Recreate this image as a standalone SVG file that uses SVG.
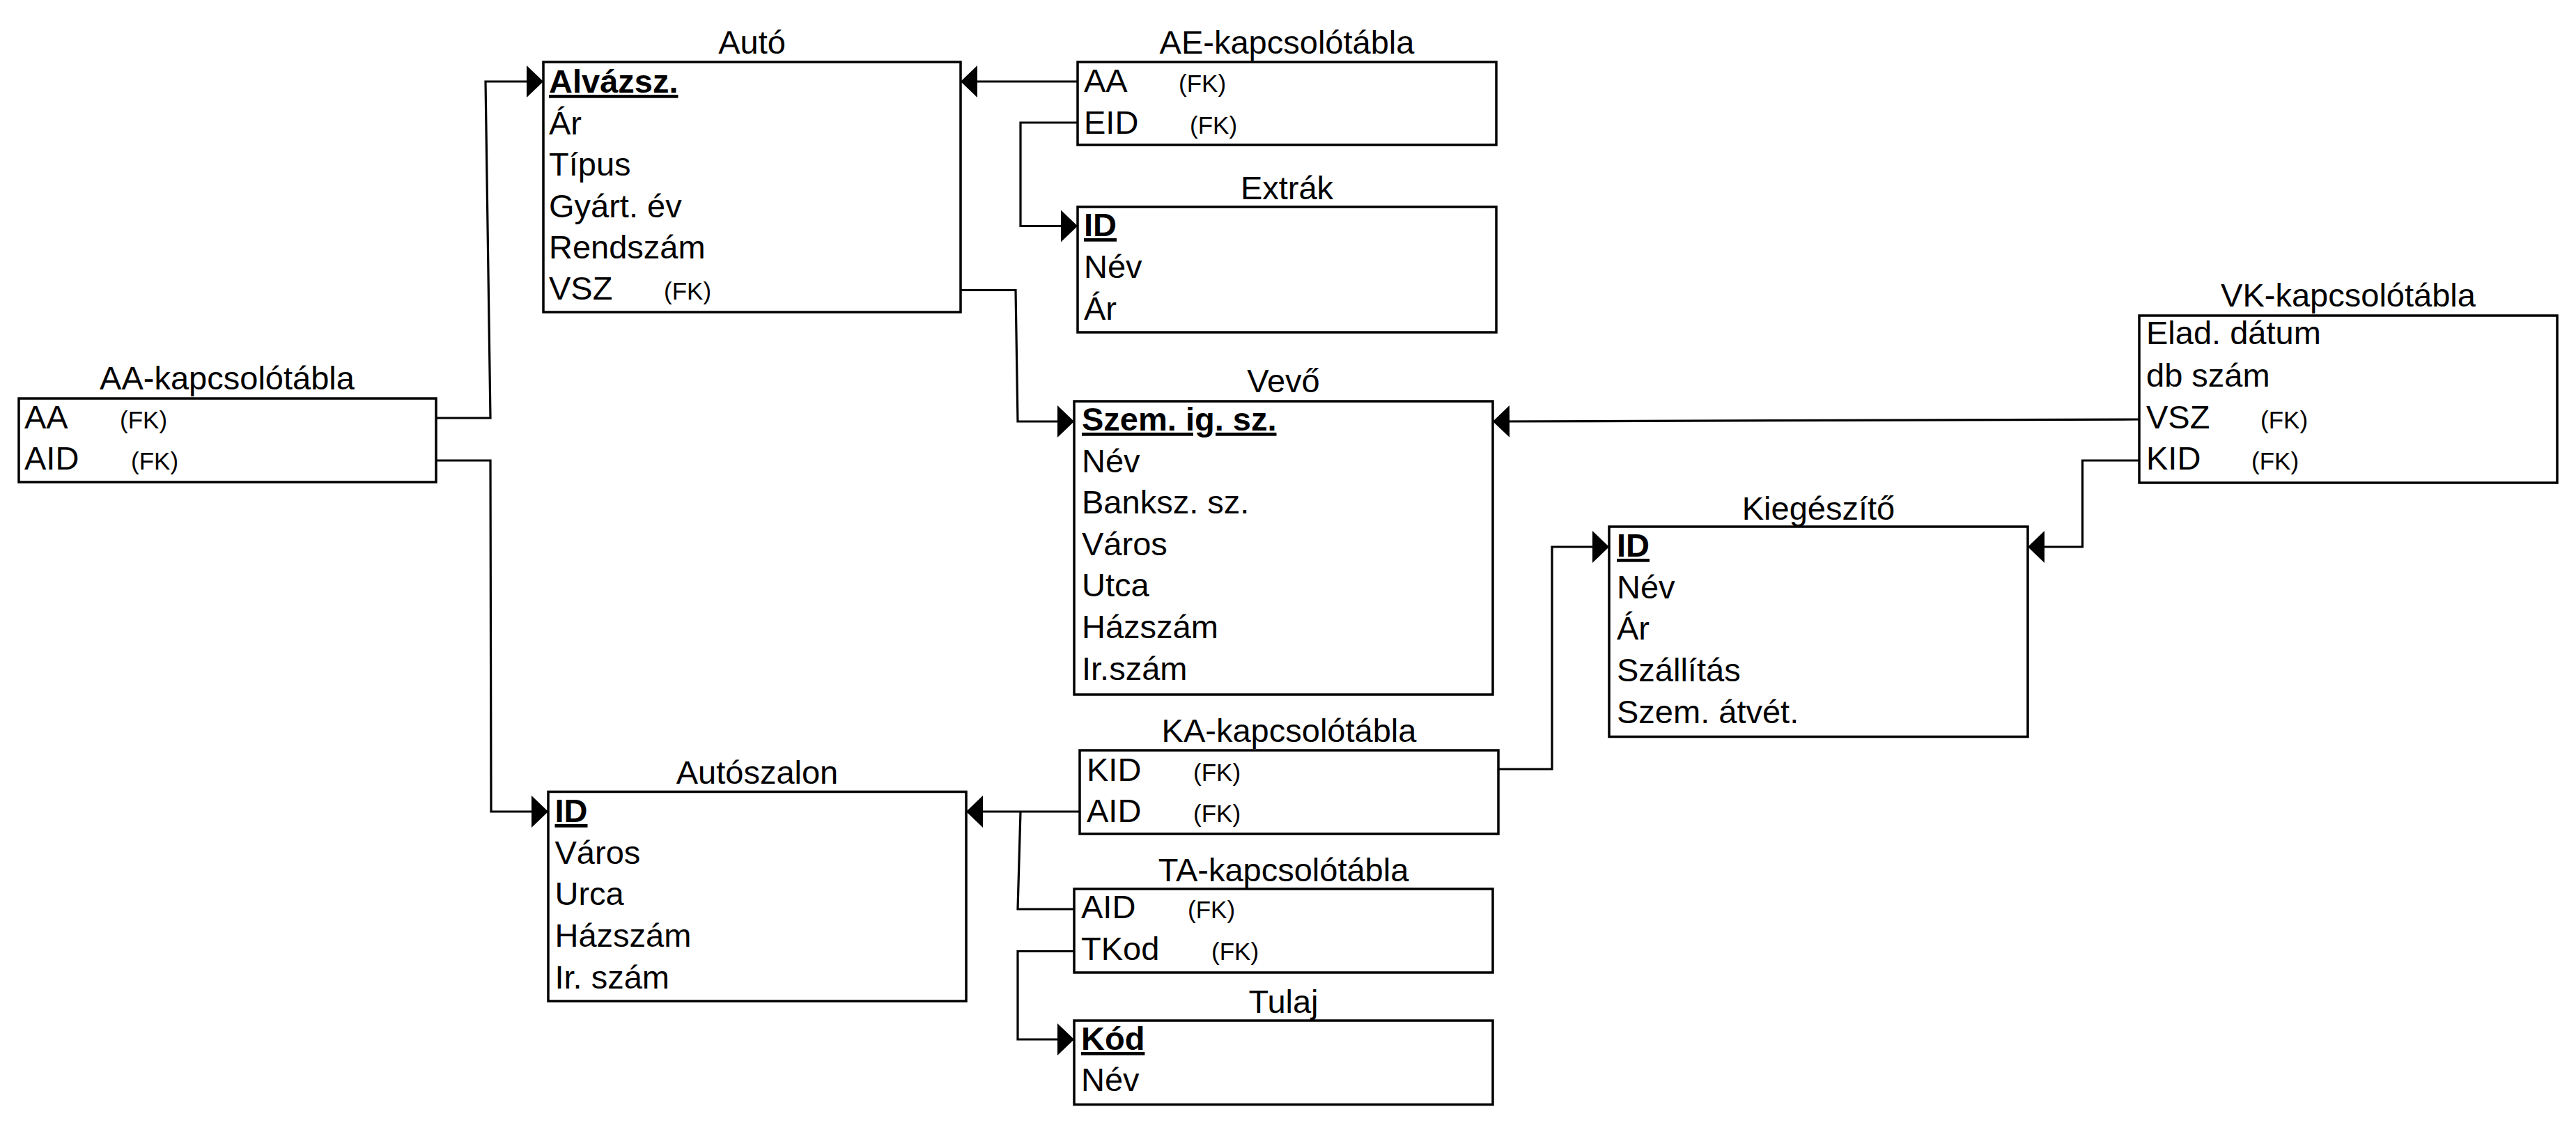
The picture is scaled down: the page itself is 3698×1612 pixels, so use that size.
<svg xmlns="http://www.w3.org/2000/svg" width="3698" height="1612" viewBox="0 0 3698 1612">
<style>
.box{fill:#fff;stroke:#000;stroke-width:3.5}
text{font-family:"Liberation Sans",Arial,sans-serif;font-size:47px;fill:#000}
.t{text-anchor:middle}
.pk{font-weight:bold;text-decoration:underline}
.fk{font-size:35px}
.c{fill:none;stroke:#000;stroke-width:3.2}
.ca{fill:none;stroke:#000;stroke-width:3.2;marker-end:url(#arr)}
</style>
<defs>
<marker id="arr" markerUnits="userSpaceOnUse" markerWidth="24" markerHeight="46" refX="24" refY="23" orient="auto">
<path d="M0,0 L24,23 L0,46 Z" fill="#000"/>
</marker>
</defs>
<rect width="3698" height="1612" fill="#fff"/>
<g id="connectors">
<path class="ca" d="M626,600 L704,600 L697,117 L780,117"/>
<path class="ca" d="M626,661 L704,661 L705,1165 L787,1165"/>
<path class="ca" d="M1547,117 L1379,117"/>
<path class="ca" d="M1547,176 L1465,176 L1465,324.5 L1547,324.5"/>
<path class="ca" d="M1379,416.5 L1458,416.5 L1461,605 L1542,605"/>
<path class="ca" d="M3071,602 L2143,605"/>
<path class="ca" d="M3071,661 L2989.5,661 L2989.5,785 L2911,785"/>
<path class="ca" d="M2151,1104 L2228,1104 L2228,785 L2310,785"/>
<path class="ca" d="M1550,1165 L1387,1165"/>
<path class="c" d="M1542,1305 L1461,1305 L1465,1165"/>
<path class="ca" d="M1542,1365.5 L1461,1365.5 L1461,1492 L1542,1492"/>
</g>
<g id="aa-kapcsolotabla">
<text class="t" x="326" y="559">AA-kapcsolótábla</text>
<rect class="box" x="27" y="572" width="599" height="120"/>
<text x="35" y="615">AA</text><text class="fk" x="172" y="615">(FK)</text>
<text x="35" y="674">AID</text><text class="fk" x="188" y="674">(FK)</text>
</g>
<g id="auto">
<text class="t" x="1079.5" y="77">Autó</text>
<rect class="box" x="780" y="89" width="599" height="359"/>
<text class="pk" x="788" y="133">Alvázsz.</text>
<text x="788" y="192.5">Ár</text>
<text x="788" y="252">Típus</text>
<text x="788" y="311.5">Gyárt. év</text>
<text x="788" y="371">Rendszám</text>
<text x="788" y="430">VSZ</text><text class="fk" x="953" y="430">(FK)</text>
</g>
<g id="ae-kapcsolotabla">
<text class="t" x="1847.5" y="77">AE-kapcsolótábla</text>
<rect class="box" x="1547" y="89" width="601" height="119"/>
<text x="1556" y="132">AA</text><text class="fk" x="1692" y="132">(FK)</text>
<text x="1556" y="191.5">EID</text><text class="fk" x="1708" y="191.5">(FK)</text>
</g>
<g id="extrak">
<text class="t" x="1847.5" y="286">Extrák</text>
<rect class="box" x="1547" y="297" width="601" height="180"/>
<text class="pk" x="1556" y="339">ID</text>
<text x="1556" y="398.5">Név</text>
<text x="1556" y="458.5">Ár</text>
</g>
<g id="vevo">
<text class="t" x="1842.5" y="563">Vevő</text>
<rect class="box" x="1542" y="576" width="601" height="421"/>
<text class="pk" x="1553" y="618">Szem. ig. sz.</text>
<text x="1553" y="677.5">Név</text>
<text x="1553" y="737">Banksz. sz.</text>
<text x="1553" y="796.5">Város</text>
<text x="1553" y="856">Utca</text>
<text x="1553" y="916">Házszám</text>
<text x="1553" y="976">Ir.szám</text>
</g>
<g id="vk-kapcsolotabla">
<text class="t" x="3371" y="439.5">VK-kapcsolótábla</text>
<rect class="box" x="3071" y="453" width="600" height="240"/>
<text x="3081" y="494">Elad. dátum</text>
<text x="3081" y="554.5">db szám</text>
<text x="3081" y="614.5">VSZ</text><text class="fk" x="3245" y="614.5">(FK)</text>
<text x="3081" y="674">KID</text><text class="fk" x="3232" y="674">(FK)</text>
</g>
<g id="kiegeszito">
<text class="t" x="2610.5" y="746">Kiegészítő</text>
<rect class="box" x="2310" y="756" width="601" height="301.5"/>
<text class="pk" x="2321" y="799">ID</text>
<text x="2321" y="858.5">Név</text>
<text x="2321" y="918">Ár</text>
<text x="2321" y="978">Szállítás</text>
<text x="2321" y="1038">Szem. átvét.</text>
</g>
<g id="ka-kapcsolotabla">
<text class="t" x="1850.5" y="1065">KA-kapcsolótábla</text>
<rect class="box" x="1550" y="1077" width="601" height="120"/>
<text x="1560" y="1121">KID</text><text class="fk" x="1713" y="1121">(FK)</text>
<text x="1560" y="1180">AID</text><text class="fk" x="1713" y="1180">(FK)</text>
</g>
<g id="autoszalon">
<text class="t" x="1087" y="1125">Autószalon</text>
<rect class="box" x="787" y="1136.5" width="600" height="300.5"/>
<text class="pk" x="796.5" y="1180">ID</text>
<text x="796.5" y="1239.5">Város</text>
<text x="796.5" y="1299">Urca</text>
<text x="796.5" y="1358.5">Házszám</text>
<text x="796.5" y="1418.5">Ir. szám</text>
</g>
<g id="ta-kapcsolotabla">
<text class="t" x="1842.5" y="1265">TA-kapcsolótábla</text>
<rect class="box" x="1542" y="1276" width="601" height="120"/>
<text x="1552" y="1318">AID</text><text class="fk" x="1705" y="1318">(FK)</text>
<text x="1552" y="1378">TKod</text><text class="fk" x="1739" y="1378">(FK)</text>
</g>
<g id="tulaj">
<text class="t" x="1842.5" y="1454">Tulaj</text>
<rect class="box" x="1542" y="1465" width="601" height="120.5"/>
<text class="pk" x="1552" y="1507">Kód</text>
<text x="1552" y="1566">Név</text>
</g>
</svg>
